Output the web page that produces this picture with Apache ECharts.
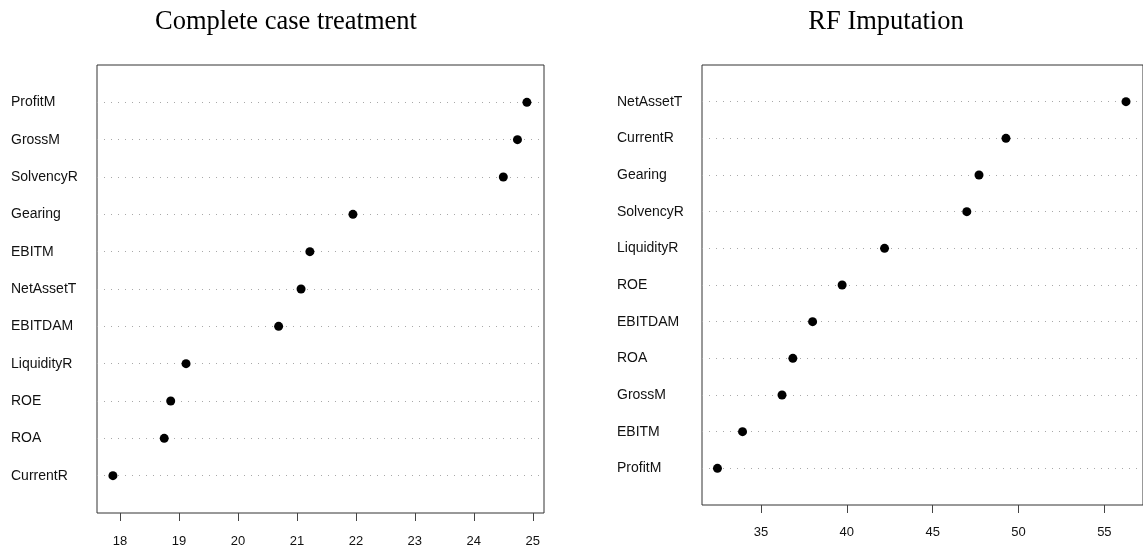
<!DOCTYPE html>
<html>
<head>
<meta charset="utf-8">
<script src="https://cdn.jsdelivr.net/npm/echarts@6/dist/echarts.min.js"></script>
<style>
html,body{margin:0;padding:0;background:#fff;}
#chart{width:1143px;height:553px;}
</style>
</head>
<body>
<div id="chart"></div>
<script>
// Panel 1: Complete case treatment (top to bottom)
const leftCategories = ['ProfitM','GrossM','SolvencyR','Gearing','EBITM','NetAssetT','EBITDAM','LiquidityR','ROE','ROA','CurrentR'];
const leftValues = [24.90, 24.74, 24.50, 21.95, 21.22, 21.07, 20.69, 19.12, 18.86, 18.75, 17.88];
const leftTicks = [18, 19, 20, 21, 22, 23, 24, 25];

// Panel 2: RF Imputation (top to bottom)
const rightCategories = ['NetAssetT','CurrentR','Gearing','SolvencyR','LiquidityR','ROE','EBITDAM','ROA','GrossM','EBITM','ProfitM'];
const rightValues = [56.26, 49.27, 47.70, 46.99, 42.20, 39.73, 38.01, 36.86, 36.23, 33.93, 32.47];
const rightTicks = [35, 40, 45, 50, 55];

const titles = ['Complete case treatment', 'RF Imputation'];

const chart = echarts.init(document.getElementById('chart'), null, {renderer: 'canvas'});

function yAxisFor(cats, gridIndex, margin) {
  const n = cats.length;
  return {
    type: 'value', gridIndex: gridIndex, min: 0, max: n + 1, interval: 1,
    axisLine: {show: false}, axisTick: {show: false}, splitLine: {show: false},
    axisLabel: {
      align: 'left', margin: margin, color: '#111', fontSize: 14,
      fontFamily: 'Liberation Sans, Arial, sans-serif',
      formatter: function (v) { return (v >= 1 && v <= n) ? cats[n - v] : ''; }
    }
  };
}
function xAxisFor(gridIndex, min, max, ticks, margin) {
  return {
    type: 'value', gridIndex: gridIndex, min: min, max: max,
    axisLine: {show: false}, splitLine: {show: false},
    axisTick: {show: true, customValues: ticks, length: 8, lineStyle: {color: '#444', width: 1}},
    axisLabel: {customValues: ticks, margin: margin, color: '#111', fontSize: 13,
      fontFamily: 'Liberation Sans, Arial, sans-serif'}
  };
}
function seriesFor(cats, vals, idx) {
  const n = cats.length;
  return [{
    type: 'line', xAxisIndex: idx, yAxisIndex: idx, data: [], z: 1,
    markLine: {
      silent: true, symbol: ['none', 'none'], label: {show: false},
      lineStyle: {type: [1, 6], color: '#a8a8a8', width: 1.2},
      data: cats.map((c, i) => ({yAxis: n - i}))
    }
  }, {
    type: 'scatter', xAxisIndex: idx, yAxisIndex: idx, z: 5,
    symbol: 'circle', symbolSize: 9, itemStyle: {color: '#000', opacity: 1},
    data: vals.map((v, i) => [v, n - i])
  }];
}

const titleStyle = {fontFamily: 'Liberation Serif, Times New Roman, serif', fontSize: 26.5, fontWeight: 'normal', color: '#000'};

const option = {
  animation: false,
  backgroundColor: '#fff',
  title: [
    {text: titles[0], left: 281, top: 4, textAlign: 'center', textStyle: titleStyle},
    {text: titles[1], left: 881, top: 4, textAlign: 'center', textStyle: titleStyle}
  ],
  grid: [
    {left: 97, top: 65, width: 447, height: 448, show: true, borderColor: '#333', borderWidth: 1, backgroundColor: 'transparent'},
    {left: 702, top: 65, width: 442, height: 440, show: true, borderColor: '#333', borderWidth: 1, backgroundColor: 'transparent'}
  ],
  xAxis: [
    xAxisFor(0, 17.61, 25.19, leftTicks, 22),
    xAxisFor(1, 31.57, 57.25, rightTicks, 21)
  ],
  yAxis: [
    yAxisFor(leftCategories, 0, 86),
    yAxisFor(rightCategories, 1, 85)
  ],
  series: seriesFor(leftCategories, leftValues, 0).concat(seriesFor(rightCategories, rightValues, 1))
};
chart.setOption(option);
</script>
</body>
</html>
